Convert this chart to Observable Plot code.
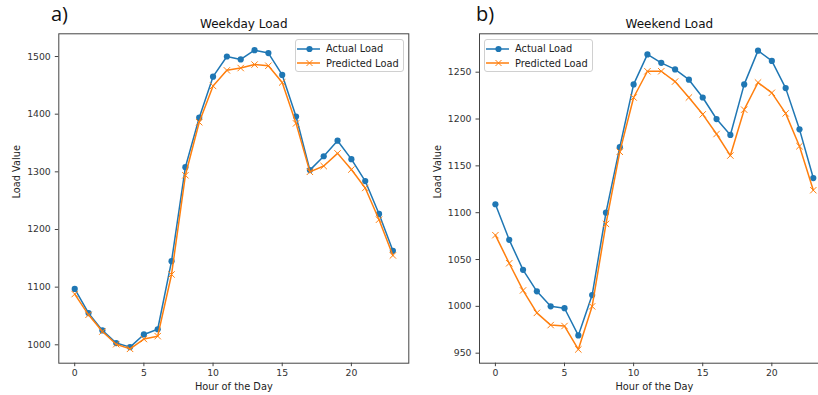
<!DOCTYPE html>
<html>
<head>
<meta charset="utf-8">
<script src="https://cdn.jsdelivr.net/npm/d3@7"></script>
<script src="https://cdn.jsdelivr.net/npm/@observablehq/plot@0.6"></script>
<style>
  html, body { margin: 0; padding: 0; background: #fff; }
  #root { position: relative; width: 818px; height: 395px; overflow: hidden; background: #fff; font-family: "DejaVu Sans", sans-serif; }
  .panel { position: absolute; top: 0; }
  .legend { position: absolute; border: 1px solid #d0d0d0; border-radius: 3px; background: rgba(255,255,255,0.85); font-size: 9.8px; color: #222; box-sizing: border-box; padding: 1px 0 0 0; }
  .legend .row { display: flex; align-items: center; height: 14.6px; }
  .legend svg { margin-left: 1px; margin-right: 5px; }
  .plabel { position: absolute; font-family: "Open Sans", "Liberation Sans", sans-serif; font-size: 20px; line-height: 22px; color: #111; }
</style>
</head>
<body>
<div id="root"></div>
<script>
const hours = d3.range(24);
const weekdayActual = [1097,1055,1025,1003,996,1018,1027,1145,1308,1394,1465,1500,1495,1511,1506,1468,1396,1303,1327,1354,1322,1284,1227,1163];
const weekdayPredicted = [1088,1052,1023,1001,993,1010,1015,1122,1294,1386,1449,1476,1480,1486,1484,1455,1384,1300,1310,1332,1304,1272,1217,1155];
const weekendActual = [1109,1071,1039,1016,1000,998,969,1012,1100,1170,1237,1269,1260,1253,1242,1223,1200,1183,1237,1273,1262,1233,1189,1137];
const weekendPredicted = [1076,1046,1017,993,980,979,954,1000,1088,1165,1223,1251,1251,1240,1223,1205,1184,1161,1210,1239,1228,1206,1171,1124];
const xTicks = [0, 5, 10, 15, 20];
const weekdayYTicks = [1000, 1100, 1200, 1300, 1400, 1500];
const weekendYTicks = [950, 1000, 1050, 1100, 1150, 1200, 1250];
const seriesNames = ["Actual Load", "Predicted Load"];
const colors = ["#1f77b4", "#ff7f0e"];

function rows(actual, predicted) {
  return hours.flatMap(h => [
    {hour: h, value: actual[h], series: seriesNames[0]},
    {hour: h, value: predicted[h], series: seriesNames[1]}
  ]);
}

function panel({data, title, yDomain, yTicks, left, width, mLeft, mRight, titleDx}) {
  const actual = data.filter(d => d.series === seriesNames[0]);
  const pred = data.filter(d => d.series === seriesNames[1]);
  const p = Plot.plot({
    width, height: 395,
    marginLeft: mLeft, marginRight: mRight, marginTop: 33.3, marginBottom: 32.3,
    style: {fontFamily: "DejaVu Sans, sans-serif", fontSize: "9.3px", color: "#333", background: "transparent", overflow: "visible"},
    x: {domain: [-1.15, 24.15]},
    y: {domain: yDomain},
    marks: [
      Plot.axisX(xTicks, {tickSize: 3.5, tickPadding: 3, label: null, tickFormat: d => String(d), stroke: "#444", fill: "#333"}),
      Plot.axisY(yTicks, {tickSize: 3.5, tickPadding: 4.5, label: null, tickFormat: d => String(d), stroke: "#444", fill: "#333"}),
      Plot.line(actual, {x: "hour", y: "value", stroke: colors[0], strokeWidth: 1.5}),
      Plot.dot(actual, {x: "hour", y: "value", fill: colors[0], r: 3.1}),
      Plot.line(pred, {x: "hour", y: "value", stroke: colors[1], strokeWidth: 1.5}),
      Plot.dot(pred, {x: "hour", y: "value", symbol: "times", stroke: colors[1], strokeWidth: 1, r: 3}),
      Plot.frame({stroke: "#444", strokeWidth: 1}),
      Plot.text(["Hour of the Day"], {frameAnchor: "bottom", dy: 26.5, fontSize: 9.8, fill: "#222"}),
      Plot.text(["Load Value"], {frameAnchor: "left", rotate: -90, dx: -41.5, fontSize: 9.8, fill: "#222"}),
      Plot.text([title], {frameAnchor: "top", dx: titleDx, dy: -14, fontSize: 12, fill: "#111"})
    ]
  });
  p.classList.add("panel");
  p.style.left = left + "px";
  return p;
}

function legend(left, top, width) {
  const div = document.createElement("div");
  div.className = "legend";
  div.style.left = left + "px";
  div.style.top = top + "px";
  div.style.width = width + "px";
  div.style.height = "32.4px";
  seriesNames.forEach((name, i) => {
    const row = document.createElement("div");
    row.className = "row";
    const s = d3.create("svg").attr("width", 24).attr("height", 10);
    s.append("line").attr("x1", 0).attr("x2", 23).attr("y1", 5).attr("y2", 5).attr("stroke", colors[i]).attr("stroke-width", 1.5);
    if (i === 0) s.append("circle").attr("cx", 12.5).attr("cy", 5).attr("r", 3.1).attr("fill", colors[0]);
    else s.append("path").attr("d", "M9.5,2L15.5,8M15.5,2L9.5,8").attr("stroke", colors[1]).attr("stroke-width", 1);
    row.appendChild(s.node());
    const t = document.createElement("span");
    t.textContent = name;
    row.appendChild(t);
    div.appendChild(row);
  });
  return div;
}

function plabel(text, left, top) {
  const d = document.createElement("div");
  d.className = "plabel";
  d.style.left = left + "px";
  d.style.top = top + "px";
  d.textContent = text;
  return d;
}

const root = document.getElementById("root");
root.appendChild(panel({data: rows(weekdayActual, weekdayPredicted), title: "Weekday Load", yDomain: [968.1, 1539.4], yTicks: weekdayYTicks, left: 0, width: 420, mLeft: 58.3, mRight: 11.7, titleDx: 10}));
root.appendChild(panel({data: rows(weekendActual, weekendPredicted), title: "Weekend Load", yDomain: [939.3, 1291], yTicks: weekendYTicks, left: 420, width: 420, mLeft: 59, mRight: 11.3, titleDx: 15}));
root.appendChild(legend(295, 39.3, 108.5));
root.appendChild(legend(484, 39.3, 108.7));
root.appendChild(plabel("a)", 51, 3));
root.appendChild(plabel("b)", 476, 3));
</script>
</body>
</html>
